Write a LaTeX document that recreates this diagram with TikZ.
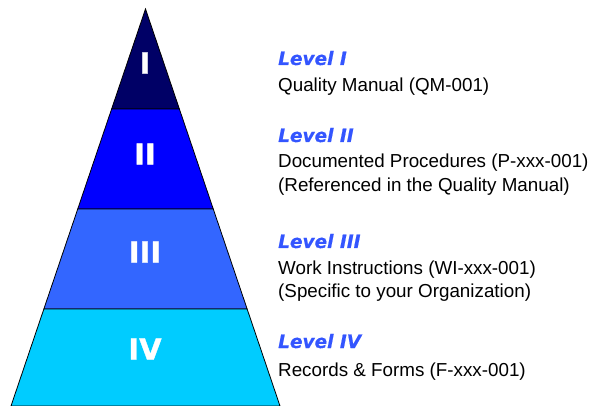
\documentclass[tikz,border=0pt]{standalone}
\usepackage{fontspec}
\setmainfont{Liberation Sans}
\newfontfamily\heavyfont{DejaVu Sans}[BoldFeatures={FakeBold=1.2}, BoldItalicFeatures={FakeBold=0.6}]
\usetikzlibrary{calc}

\definecolor{navyband}{RGB}{0,0,102}
\definecolor{blueband}{RGB}{0,0,255}
\definecolor{midband}{RGB}{51,102,255}
\definecolor{cyanband}{RGB}{0,204,255}
\definecolor{headblue}{RGB}{51,85,255}

\tikzset{
	band/.style={draw=black, line width=0.8pt, line join=miter},
	numeral/.style={text=white, font=\heavyfont\bfseries\fontsize{29}{29}\selectfont},
	levelhead/.style={anchor=base west, inner sep=0pt, text=headblue, font=\heavyfont\bfseries\itshape\fontsize{18.5}{18.5}\selectfont},
	leveltext/.style={anchor=base west, inner sep=0pt, font=\fontsize{18.8}{24}\selectfont}
}

\begin{document}
\begin{tikzpicture}[x=1pt,y=-1pt]

		\useasboundingbox (0,0) rectangle (592,406);
		
		\coordinate (apex) at (145.5,9);
		\coordinate (bl) at (11,406);
		\coordinate (br) at (280,406);
		
		% band edges on both sides
		\coordinate (l1) at ($(apex)!0.2519!(bl)$);
		\coordinate (r1) at ($(apex)!0.2519!(br)$);
		\coordinate (l2) at ($(apex)!0.5038!(bl)$);
		\coordinate (r2) at ($(apex)!0.5038!(br)$);
		\coordinate (l3) at ($(apex)!0.7557!(bl)$);
		\coordinate (r3) at ($(apex)!0.7557!(br)$);
		
		\filldraw[band, fill=navyband] (apex) -- (r1) -- (l1) -- cycle;
		\filldraw[band, fill=blueband] (l1) -- (r1) -- (r2) -- (l2) -- cycle;
		\filldraw[band, fill=midband] (l2) -- (r2) -- (r3) -- (l3) -- cycle;
		\filldraw[band, fill=cyanband] (l3) -- (r3) -- (br) -- (bl) -- cycle;
		
		\node (numI) at (145,63) [numeral] {I};
		\node (numII) at (145,154) [numeral] {II};
		\node (numIII) at (145,252) [numeral] {III};
		\node (numIV) at (145,349) [numeral] {IV};
		
		\node (headI) at (278,65) [levelhead] {Level I};
		\node (textI) at (278,92) [leveltext] {Quality Manual (QM-001)};
		
		\node (headII) at (278,142) [levelhead] {Level II};
		\node (textII) at (278,168) [leveltext] {Documented Procedures (P-xxx-001)};
		\node (noteII) at (278,192) [leveltext] {(Referenced in the Quality Manual)};
		
		\node (headIII) at (278,248) [levelhead] {Level III};
		\node (textIII) at (278,275) [leveltext] {Work Instructions (WI-xxx-001)};
		\node (noteIII) at (278,298) [leveltext] {(Specific to your Organization)};
		
		\node (headIV) at (278,348) [levelhead] {Level IV};
		\node (textIV) at (278,376) [leveltext] {Records \& Forms (F-xxx-001)};
		
	\end{tikzpicture}
\end{document}
